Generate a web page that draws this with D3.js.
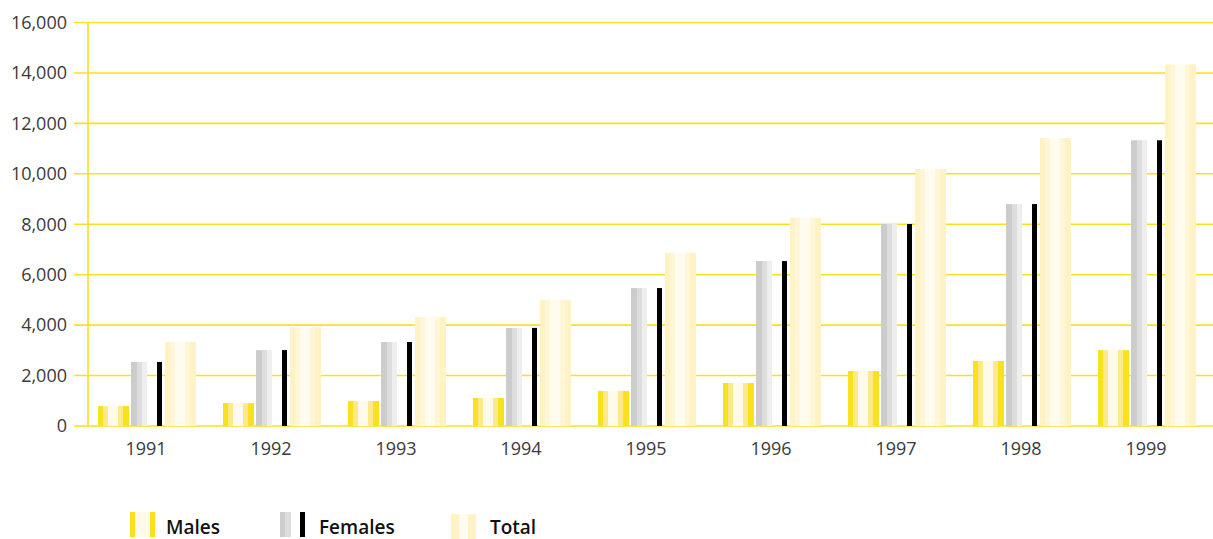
<!DOCTYPE html>
<html>
<head>
<meta charset="utf-8">
<script src="https://cdn.jsdelivr.net/npm/d3@7"></script>
<style>
  body { margin: 0; background: #fff; }
  svg { display: block; font-family: "Open Sans", "Noto Sans", sans-serif; }
  .tick-label { fill: #3a3a3a; font-size: 18px; }
  .legend-label { fill: #111; font-size: 19px; font-weight: 600; }
</style>
</head>
<body>
<svg id="chart"></svg>
<script>
// Data
var years = ["1991", "1992", "1993", "1994", "1995", "1996", "1997", "1998", "1999"];
var males = [790, 910, 990, 1110, 1390, 1705, 2180, 2580, 3010];
var females = [2540, 3010, 3330, 3890, 5470, 6540, 8010, 8800, 11330];
var total = [3330, 3920, 4320, 5000, 6870, 8260, 10190, 11420, 14340];
var yTicks = [0, 2000, 4000, 6000, 8000, 10000, 12000, 14000, 16000];
var legendNames = ["Males", "Females", "Total"];

var width = 1213;
var height = 539;
var yellow = "#fae11e";

var svg = d3.select("#chart").attr("width", width).attr("height", height);

var x = d3.scaleBand().domain(years).range([88, 1213]).padding(0);
var y = d3.scaleLinear().domain([0, 16000]).range([426, 22.5]);

// striped fills: [width, colour] bands turned into a hard-edged gradient
var defs = svg.append("defs");
function stripes(id, bands) {
    var grad = defs.append("linearGradient").attr("id", id)
        .attr("x1", 0).attr("x2", 1).attr("y1", 0).attr("y2", 0);
    var sum = d3.sum(bands, function (b) { return b[0]; });
    var pos = 0;
    bands.forEach(function (b) {
        grad.append("stop").attr("offset", pos / sum).attr("stop-color", b[1]);
        pos += b[0];
        grad.append("stop").attr("offset", pos / sum).attr("stop-color", b[1]);
    });
}
stripes("malesFill", [[5, yellow], [5, "#fde98a"], [10, "#fffaea"], [5, "#fde98a"], [6, yellow]]);
stripes("femalesFill", [[6, "#cccccc"], [5, "#dddddd"], [5, "#eeeeee"]]);
stripes("totalFill", [[5, "#fff2c4"], [5, "#fff6d8"], [10, "#fffbee"], [5, "#fff6d8"], [6, "#fff2c4"]]);
stripes("malesKey", [[5, yellow], [15, "#fffaea"], [5, yellow]]);
stripes("femalesKey", [[5, "#cccccc"], [6, "#dddddd"]]);
stripes("totalKey", [[8, "#fff2c4"], [9, "#fffbee"], [8, "#fff2c4"]]);

// gridlines + ticks
svg.append("g").selectAll("line").data(yTicks).enter().append("line")
    .attr("x1", 74).attr("x2", width)
    .attr("y1", function (d) { return y(d); }).attr("y2", function (d) { return y(d); })
    .style("stroke", yellow).style("stroke-width", 1.6);

svg.append("line")
    .attr("x1", 88).attr("x2", 88).attr("y1", y(16000)).attr("y2", y(0))
    .style("stroke", yellow).style("stroke-width", 1.6);

svg.append("g").selectAll("text").data(yTicks).enter().append("text")
    .attr("class", "tick-label")
    .attr("x", 67).attr("y", function (d) { return y(d); }).attr("dy", "0.35em")
    .attr("text-anchor", "end")
    .text(d3.format(","));

// bars
var groups = svg.append("g").selectAll("g").data(years).enter().append("g")
    .attr("transform", function (d) { return "translate(" + x(d) + ",0)"; });

function bar(values, offset, w, fill) {
    groups.append("rect")
        .attr("x", offset).attr("width", w)
        .attr("y", function (d, i) { return y(values[i]); })
        .attr("height", function (d, i) { return y(0) - y(values[i]); })
        .style("fill", fill);
}
bar(males, 10, 31, "url(#malesFill)");
bar(females, 43, 16, "url(#femalesFill)");
bar(females, 69, 5, "#000");
bar(total, 77, 31, "url(#totalFill)");

groups.append("text")
    .attr("class", "tick-label")
    .attr("x", 58).attr("y", 455)
    .attr("text-anchor", "middle")
    .text(function (d) { return d; });

// legend
var legend = svg.append("g");
legend.append("rect").attr("x", 130).attr("y", 512).attr("width", 25).attr("height", 25).style("fill", "url(#malesKey)");
legend.append("rect").attr("x", 280).attr("y", 512).attr("width", 11).attr("height", 25).style("fill", "url(#femalesKey)");
legend.append("rect").attr("x", 300).attr("y", 512).attr("width", 5).attr("height", 25).style("fill", "#000");
legend.append("rect").attr("x", 451).attr("y", 514).attr("width", 25).attr("height", 25).style("fill", "url(#totalKey)");

var legendX = [166, 319, 490];
legend.selectAll("text").data(legendNames).enter().append("text")
    .attr("class", "legend-label")
    .attr("x", function (d, i) { return legendX[i]; })
    .attr("y", 534)
    .text(function (d) { return d; });
</script>
</body>
</html>
